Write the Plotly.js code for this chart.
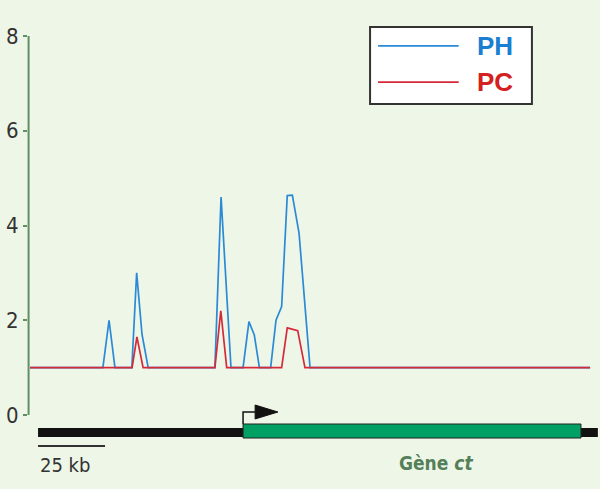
<!DOCTYPE html>
<html>
<head>
<meta charset="utf-8">
<script src="https://cdn.plot.ly/plotly-3.0.1.min.js"></script>
<style>
  html, body { margin: 0; padding: 0; background: #eef6e8; }
  #chart { width: 600px; height: 489px; }
</style>
</head>
<body>
<div id="chart"></div>
<script>
// ---- Data (x in kb) ----
const phX = [0, 27.2, 29.5, 31.7, 38.0, 39.8, 41.8, 44.1, 69.0, 71.3, 75.0, 79.5, 81.7, 83.7, 85.6, 89.8, 91.8, 93.9, 96.0, 97.9, 100.4, 104.5, 209.0];
const phY = [1, 1, 2.0, 1, 1, 3.0, 1.7, 1, 1, 4.6, 1, 1, 1.97, 1.69, 1, 1, 2.0, 2.29, 4.63, 4.64, 3.84, 1, 1];
const pcX = [0, 38.1, 39.9, 42.2, 69.0, 71.2, 73.4, 93.9, 96.0, 99.9, 102.6, 209.0];
const pcY = [1, 1, 1.65, 1, 1, 2.2, 1, 1, 1.84, 1.78, 1, 1];
const seriesNames = ['PH', 'PC'];
const yTicks = [0, 2, 4, 6, 8];
// gene track (kb)
const trackStart = 3.0, trackEnd = 211.9;
const geneStart = 79.5, geneEnd = 205.6;
const arrowTip = 92.5, arrowBase = 84.0;
const scaleStart = 3.0, scaleLen = 25;
const scaleLabel = '25 kb';
const geneLabel = 'Gène <i>ct</i>';

const blue = '#2a8ad6', red = '#d42a3a', axisGreen = '#5f8f63', bg = '#eef6e8';

const traces = [
  {x: phX, y: phY, mode: 'lines', name: seriesNames[0], line: {color: blue, width: 1.7}, hoverinfo: 'skip'},
  {x: pcX, y: pcY, mode: 'lines', name: seriesNames[1], line: {color: red, width: 1.7}, hoverinfo: 'skip'}
];

const shapes = [
  {type: 'line', xref: 'paper', yref: 'y', x0: 0.001, x1: 0.001, y0: 0, y1: 8, line: {color: axisGreen, width: 2}},
  {type: 'rect', xref: 'x', yref: 'y', x0: trackStart, x1: trackEnd, y0: -0.464, y1: -0.274, fillcolor: '#111', line: {width: 0}},
  {type: 'rect', xref: 'x', yref: 'y', x0: geneStart, x1: geneEnd, y0: -0.486, y1: -0.19, fillcolor: '#00a064', line: {color: '#222', width: 1}},
  {type: 'path', xref: 'x', yref: 'y', path: `M ${geneStart} -0.19 L ${geneStart} 0.063 L ${arrowBase} 0.063`, line: {color: '#111', width: 1.5}},
  {type: 'path', xref: 'x', yref: 'y', path: `M ${arrowBase} 0.211 L ${arrowTip} 0.063 L ${arrowBase} -0.084 Z`, fillcolor: '#111', line: {color: '#111', width: 1}},
  {type: 'line', xref: 'x', yref: 'y', x0: scaleStart, x1: scaleStart + scaleLen, y0: -0.654, y1: -0.654, line: {color: '#333', width: 2}},
  {type: 'rect', xref: 'paper', yref: 'paper', x0: 0.598, x1: 0.881, y0: 0.850, y1: 1.020, fillcolor: '#ffffff', line: {color: '#333', width: 2}},
  {type: 'line', xref: 'paper', yref: 'paper', x0: 0.612, x1: 0.753, y0: 0.978, y1: 0.978, line: {color: blue, width: 1.7}},
  {type: 'line', xref: 'paper', yref: 'paper', x0: 0.612, x1: 0.753, y0: 0.898, y1: 0.898, line: {color: red, width: 1.7}}
];

const annotations = [
  {xref: 'paper', yref: 'paper', x: 0.781, y: 0.978, xanchor: 'left', yanchor: 'middle', text: '<b>' + seriesNames[0] + '</b>', showarrow: false, font: {family: 'Liberation Sans, Arial, sans-serif', size: 26, color: '#1a7fd0'}},
  {xref: 'paper', yref: 'paper', x: 0.781, y: 0.898, xanchor: 'left', yanchor: 'middle', text: '<b>' + seriesNames[1] + '</b>', showarrow: false, font: {family: 'Liberation Sans, Arial, sans-serif', size: 26, color: '#d42020'}},
  {xref: 'x', yref: 'y', x: scaleStart, y: -1.05, xanchor: 'left', yanchor: 'middle', text: scaleLabel, showarrow: false, font: {family: 'DejaVu Sans Condensed, DejaVu Sans, sans-serif', size: 20, color: '#333'}},
  {xref: 'paper', yref: 'y', x: (436 - 28) / 572, y: -1.02, xanchor: 'center', yanchor: 'middle', text: '<b>' + geneLabel + '</b>', showarrow: false, font: {family: 'DejaVu Sans Condensed, DejaVu Sans, sans-serif', size: 19, color: '#557f58'}}
];

const layout = {
  width: 600, height: 489,
  margin: {l: 28, r: 0, t: 36, b: 0, pad: 0},
  paper_bgcolor: bg, plot_bgcolor: bg,
  showlegend: false,
  xaxis: {range: [-0.746, 212.7], visible: false, fixedrange: true},
  yaxis: {
    range: [-1.562, 8], tickvals: yTicks, ticktext: yTicks.map(String),
    showgrid: false, zeroline: false, showline: false,
    ticks: 'outside', ticklen: 4, tickwidth: 2, tickcolor: axisGreen,
    ticklabelstandoff: 0,
    tickfont: {family: 'DejaVu Sans Condensed, sans-serif', size: 22, color: '#333'},
    fixedrange: true
  },
  shapes: shapes,
  annotations: annotations
};

Plotly.newPlot('chart', traces, layout, {displayModeBar: false, staticPlot: true});
</script>
</body>
</html>
